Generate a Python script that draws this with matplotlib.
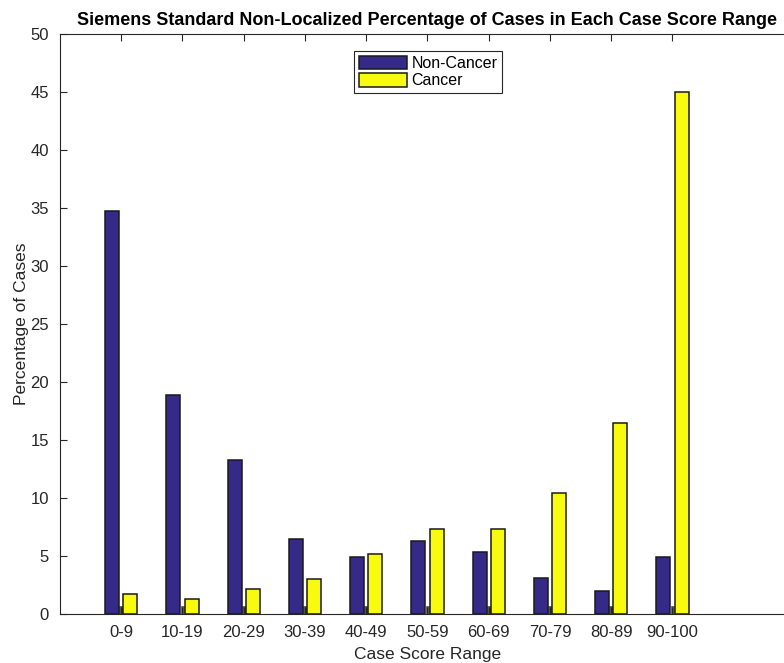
import numpy as np
import matplotlib.pyplot as plt

plt.rcParams['font.family'] = ['Liberation Sans', 'DejaVu Sans']

ranges = ["0-9", "10-19", "20-29", "30-39", "40-49", "50-59", "60-69", "70-79", "80-89", "90-100"]
non_cancer = [34.74, 18.84, 13.24, 6.46, 4.91, 6.26, 5.37, 3.13, 1.98, 4.91]
cancer = [1.72, 1.27, 2.13, 2.99, 5.19, 7.32, 7.32, 10.42, 16.42, 45.0]
stub = [0.65] * 10

GREY = '#262626'
fig = plt.figure(figsize=(7.84, 6.63), dpi=100)
ax = fig.add_axes([60/784, 49/663, 735/784, 580.5/663])

x = np.arange(1, len(ranges) + 1)
ax.bar(x, stub, width=0.06, color='#555555', edgecolor='#555555', linewidth=0.5, zorder=1)
ax.bar(x - 0.148, non_cancer, width=0.23, color='#352A87', edgecolor='#1a1a1a',
       linewidth=1.1, label='Non-Cancer', zorder=2)
ax.bar(x + 0.148, cancer, width=0.23, color='#F9FB0E', edgecolor='#1a1a1a',
       linewidth=1.1, label='Cancer', zorder=2)

ax.set_xlim(0, 12)
ax.set_ylim(0, 50)
ax.set_xticks(x)
ax.set_xticklabels(ranges)
ax.set_yticks(np.arange(0, 51, 5))
ax.tick_params(direction='in', length=5, width=0.8, color=GREY, labelcolor=GREY,
               labelsize=12, top=True, pad=8)
for s in ['left', 'bottom', 'top']:
    ax.spines[s].set_color(GREY)
    ax.spines[s].set_linewidth(0.8)
ax.spines['right'].set_visible(False)

ax.set_title('Siemens Standard Non-Localized Percentage of Cases in Each Case Score Range',
             fontsize=13, fontweight='bold', pad=6)
ax.set_xlabel('Case Score Range', fontsize=12.5, color=GREY, labelpad=5)
ax.set_ylabel('Percentage of Cases', fontsize=12.5, color=GREY, labelpad=1)

leg = ax.legend(loc='upper center', bbox_to_anchor=(428/784, 1 - 51/663),
                bbox_transform=fig.transFigure, fontsize=11.5, handlelength=3.0,
                handleheight=0.9, fancybox=False, framealpha=1, edgecolor=GREY,
                borderpad=0.3, labelspacing=0.15, handletextpad=0.3, borderaxespad=0)
leg.get_frame().set_linewidth(0.8)

plt.savefig('out.png', dpi=100)
